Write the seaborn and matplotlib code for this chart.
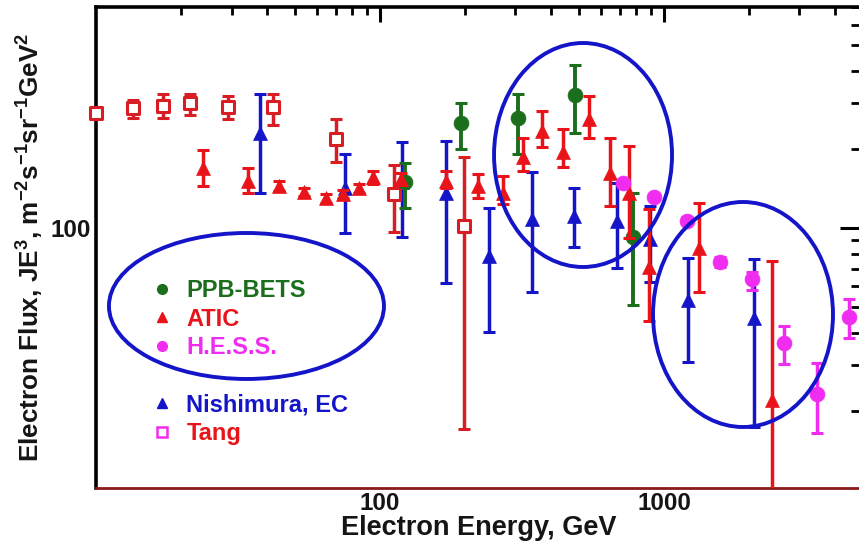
import numpy as np
import pandas as pd
import matplotlib
matplotlib.use("Agg")
import matplotlib.pyplot as plt
from matplotlib.patches import Ellipse
from matplotlib.lines import Line2D
from matplotlib.ticker import FixedLocator, NullFormatter, FixedFormatter
import seaborn as sns

# ---------------- data ----------------
tang_E = [10, 13.5, 17.2, 21.4, 29.2, 42, 70, 112, 198]
tang_F = [275, 287, 294, 300, 290, 290, 219, 135, 102]
tang_lo = [262, 263, 263, 270, 261, 249, 179, 97, 17.1]
tang_hi = [289, 308, 327, 327, 319, 327, 261, 175, 188]

atic_E = [23.8, 34.3, 44, 54, 64.6, 74, 84.3, 94.5, 119, 171, 221, 271, 319,
          372, 440, 545, 646, 753, 885, 1327, 2399]
atic_F = [170, 152, 145, 138, 130, 135, 142, 157, 154, 152, 145, 137, 187,
          235, 195, 261, 162, 136, 71, 84, 22.1]
atic_lo = [145, 137, 139, 133, 125, 130, 136, 148, 146, 143, 131, 124, 166,
           204, 172, 221, 122, 91.6, 44.2, 57, 5]
atic_hi = [199, 170, 151, 143, 135, 140, 148, 166, 163, 166, 161, 159, 221,
           280, 239, 319, 222, 207, 119, 125, 74.8]

hess_E = [718, 923, 1205, 1574, 2042, 2649, 3461, 4478]
hess_F = [149, 132, 107, 74.2, 63.8, 36.4, 23.4, 45.7]
hess_lo = [146, 129, 104, 71, 58, 30.3, 16.5, 38]
hess_hi = [152, 135, 110, 77.5, 68, 42.3, 30.5, 53.6]

ppb_E = [122, 193, 306, 486, 778]
ppb_F = [150, 252, 263, 322, 92.4]
ppb_lo = [120, 200, 193, 231, 50.8]
ppb_hi = [177, 300, 327, 419, 136]

nish_E = [37.8, 75.4, 120, 171, 242, 343, 482, 684, 893, 1216, 2075]
nish_F = [231, 142, 150, 136, 78.2, 109, 111, 107, 90.8, 53.1, 45.3]
nish_lo = [137, 95.7, 92.5, 61.7, 40.1, 57, 84.5, 70.3, 62.2, 31, 17.4]
nish_hi = [327, 193, 213, 215, 120, 164, 143, 149, 122, 76.8, 76.2]

x_major = [100, 1000]
x_major_labels = ["100", "1000"]
y_major = [100]
y_major_labels = ["100"]

# ---------------- style ----------------
sns.set_theme(style="white")
plt.rcParams["font.family"] = ["Liberation Sans", "DejaVu Sans"]
plt.rcParams["font.weight"] = "bold"
plt.rcParams["mathtext.fontset"] = "custom"
plt.rcParams["mathtext.rm"] = "Liberation Sans:bold"
plt.rcParams["mathtext.it"] = "Liberation Sans:bold"
plt.rcParams["mathtext.bf"] = "Liberation Sans:bold"
plt.rcParams["mathtext.default"] = "rm"

GREEN = "#1b6e1b"
RED = "#e8141a"
TANGRED = "#d81e24"
MAGENTA = "#f02cf0"
BLUE = "#1414c8"
TXT = "#151515"

fig = plt.figure(figsize=(8.59, 5.51), dpi=100)
ax = fig.add_axes([96 / 859, 1 - 488 / 551, 766.5 / 859, 481 / 551])
ax.set_xscale("log")
ax.set_yscale("log")
ax.set_xlim(10, 5000)
ax.set_ylim(10.2, 700)


def draw(E, F, lo, hi, color, marker, size, face=None, lw=2.5, clip=True, z=3):
    E = np.asarray(E, float)
    F = np.asarray(F, float)
    yerr = [F - np.asarray(lo, float), np.asarray(hi, float) - F]
    eb = ax.errorbar(E, F, yerr=yerr, fmt="none", ecolor=color, elinewidth=lw,
                     capsize=4.5, capthick=2.2, zorder=z)
    for a in eb.get_children():
        a.set_clip_on(clip)
    df = pd.DataFrame({"E": E, "F": F})
    sns.scatterplot(data=df, x="E", y="F", ax=ax, marker=marker, s=size,
                    color=face if face is not None else color,
                    edgecolor=color, linewidth=2.2 if face is not None else 0.5,
                    zorder=z + 0.5, clip_on=clip, legend=False)


draw(nish_E, nish_F, nish_lo, nish_hi, BLUE, "^", 100, z=3)
draw(tang_E, tang_F, tang_lo, tang_hi, TANGRED, "s", 70, face="white", clip=False, z=4)
draw(ppb_E, ppb_F, ppb_lo, ppb_hi, GREEN, "o", 115, lw=2.8, z=5)
draw(atic_E, atic_F, atic_lo, atic_hi, RED, "^", 100, z=6)
draw(hess_E, hess_F, hess_lo, hess_hi, MAGENTA, "o", 115, z=7)

# ---------------- ticks ----------------
ax.xaxis.set_major_locator(FixedLocator(x_major))
ax.xaxis.set_major_formatter(FixedFormatter(x_major_labels))
x_minor = [m * d for d in (10, 100, 1000) for m in range(2, 10)]
ax.xaxis.set_minor_locator(FixedLocator(x_minor))
ax.xaxis.set_minor_formatter(NullFormatter())
ax.yaxis.set_major_locator(FixedLocator(y_major))
ax.yaxis.set_major_formatter(FixedFormatter(y_major_labels))
y_minor = [m * d for d in (10, 100) for m in range(2, 10)]
ax.yaxis.set_minor_locator(FixedLocator(y_minor))
ax.yaxis.set_minor_formatter(NullFormatter())

ax.tick_params(which="both", direction="in", top=True, right=True,
               colors="black", labelcolor=TXT)
ax.tick_params(axis="x", which="major", length=11, width=2.2, pad=3, labelsize=17.5)
ax.tick_params(axis="x", which="minor", length=6, width=2)
ax.tick_params(axis="y", which="major", length=16, width=2.2, pad=4, labelsize=17.5)
ax.tick_params(axis="y", which="minor", length=8, width=2)
for lab in ax.get_xticklabels() + ax.get_yticklabels():
    lab.set_fontweight("bold")

for s in ["left", "top", "right"]:
    ax.spines[s].set_color("black")
    ax.spines[s].set_linewidth(2.6)
ax.spines["bottom"].set_color("#8b1a1a")
ax.spines["bottom"].set_linewidth(2.0)

ax.set_xlabel("Electron Energy, GeV", fontsize=19.5, fontweight="bold",
              color=TXT, labelpad=0)
ax.set_ylabel(r"Electron Flux, JE$^3$, m$^{-2}$s$^{-1}$sr$^{-1}$GeV$^2$",
              fontsize=18.8, fontweight="bold", color=TXT, labelpad=3)

# ---------------- ellipses (annotations) ----------------
for (cx, cy, w, h) in [(0.1963, 0.3784, 0.3588, 0.3035),
                       (0.6354, 0.6923, 0.2322, 0.4657),
                       (0.8441, 0.3607, 0.2348, 0.4678)]:
    ax.add_patch(Ellipse((cx, cy), w, h, transform=ax.transAxes, fill=False,
                         edgecolor=BLUE, linewidth=2.8, zorder=8, clip_on=False))

# ---------------- legends ----------------
prop = {"weight": "bold", "size": 17, "family": ["Liberation Sans", "DejaVu Sans"]}
h1 = [Line2D([], [], marker="o", ls="none", color=GREEN, markersize=7),
      Line2D([], [], marker="^", ls="none", color=RED, markersize=7),
      Line2D([], [], marker="o", ls="none", color=MAGENTA, markersize=7)]
leg1 = ax.legend(h1, ["PPB-BETS", "ATIC", "H.E.S.S."], loc="upper left",
                 bbox_to_anchor=(0.0718, 0.434), frameon=False, prop=prop,
                 handlelength=0.95, handletextpad=0.55, labelspacing=0.23,
                 borderpad=0, borderaxespad=0,
                 labelcolor=[GREEN, RED, MAGENTA])
ax.add_artist(leg1)
h2 = [Line2D([], [], marker="^", ls="none", color=BLUE, markersize=7),
      Line2D([], [], marker="s", ls="none", markerfacecolor="white",
             markeredgecolor=MAGENTA, markeredgewidth=1.8, markersize=7)]
ax.legend(h2, ["Nishimura, EC", "Tang"], loc="upper left",
          bbox_to_anchor=(0.0718, 0.196), frameon=False, prop=prop,
          handlelength=0.95, handletextpad=0.55, labelspacing=0.23,
          borderpad=0, borderaxespad=0, labelcolor=[BLUE, RED])

fig.savefig("out.png", dpi=100)
